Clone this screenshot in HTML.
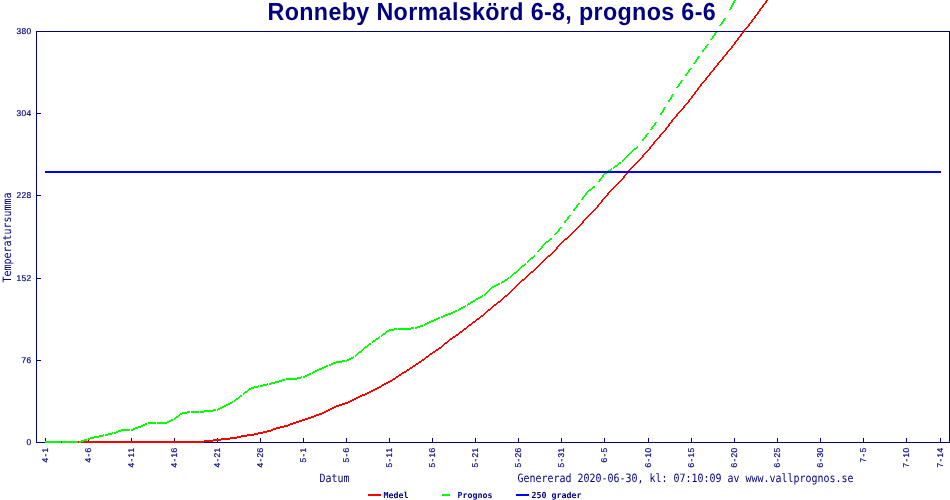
<!DOCTYPE html>
<html lang="sv"><head><meta charset="utf-8"><title>Ronneby Normalskörd 6-8, prognos 6-6</title>
<style>
html,body{margin:0;padding:0;background:#fff;}
body{width:950px;height:500px;overflow:hidden;}
svg{display:block;}
.title{font-family:"Liberation Sans",Arial,sans-serif;font-weight:bold;font-size:23.3px;letter-spacing:0.34px;}
.tiny{font-family:"Liberation Sans",Arial,sans-serif;font-size:8.4px;stroke:#000080;stroke-width:0.2px;}
.tinyb{font-family:"DejaVu Sans Mono","Liberation Mono",monospace;font-size:8.3px;font-weight:bold;}
.small{font-family:"DejaVu Sans Mono","Liberation Mono",monospace;font-size:9.97px;}
</style></head><body>
<svg width="950" height="500" viewBox="0 0 950 500" shape-rendering="crispEdges">
<rect width="950" height="500" fill="#fff"/>
<g fill="#000080">
<rect x="36" y="31" width="914" height="1"/>
<rect x="36" y="442" width="914" height="1"/>
<rect x="36" y="31" width="1" height="412"/>
<rect x="949" y="31" width="1" height="412"/>
<rect x="36" y="31" width="5" height="1"/>
<rect x="36" y="113" width="5" height="1"/>
<rect x="36" y="195" width="5" height="1"/>
<rect x="36" y="278" width="5" height="1"/>
<rect x="36" y="360" width="5" height="1"/>
<rect x="36" y="442" width="5" height="1"/>
<rect x="45" y="438" width="1" height="5"/>
<rect x="88" y="438" width="1" height="5"/>
<rect x="131" y="438" width="1" height="5"/>
<rect x="174" y="438" width="1" height="5"/>
<rect x="217" y="438" width="1" height="5"/>
<rect x="260" y="438" width="1" height="5"/>
<rect x="303" y="438" width="1" height="5"/>
<rect x="346" y="438" width="1" height="5"/>
<rect x="389" y="438" width="1" height="5"/>
<rect x="432" y="438" width="1" height="5"/>
<rect x="475" y="438" width="1" height="5"/>
<rect x="518" y="438" width="1" height="5"/>
<rect x="561" y="438" width="1" height="5"/>
<rect x="604" y="438" width="1" height="5"/>
<rect x="648" y="438" width="1" height="5"/>
<rect x="691" y="438" width="1" height="5"/>
<rect x="734" y="438" width="1" height="5"/>
<rect x="777" y="438" width="1" height="5"/>
<rect x="820" y="438" width="1" height="5"/>
<rect x="863" y="438" width="1" height="5"/>
<rect x="906" y="438" width="1" height="5"/>
<rect x="940" y="438" width="1" height="5"/>
</g>
<path fill="#f00" d="M766 0h2v1h-2zM765 1h2v1h-2zM765 2h2v1h-2zM764 3h2v1h-2zM763 4h2v1h-2zM762 5h2v1h-2zM762 6h2v1h-2zM761 7h2v1h-2zM760 8h2v1h-2zM759 9h2v1h-2zM759 10h2v1h-2zM758 11h2v1h-2zM757 12h2v1h-2zM757 13h2v1h-2zM756 14h2v1h-2zM755 15h2v1h-2zM754 16h2v1h-2zM754 17h2v1h-2zM753 18h2v1h-2zM752 19h2v1h-2zM751 20h2v1h-2zM751 21h2v1h-2zM750 22h2v1h-2zM749 23h2v1h-2zM748 24h2v1h-2zM748 25h2v1h-2zM747 26h2v1h-2zM746 27h2v1h-2zM745 28h2v1h-2zM744 29h2v1h-2zM743 30h2v1h-2zM743 31h2v1h-2zM742 32h2v1h-2zM741 33h2v1h-2zM740 34h2v1h-2zM740 35h2v1h-2zM739 36h2v1h-2zM738 37h2v1h-2zM737 38h2v1h-2zM737 39h2v1h-2zM736 40h2v1h-2zM735 41h2v1h-2zM734 42h2v1h-2zM734 43h2v1h-2zM733 44h2v1h-2zM732 45h2v1h-2zM731 46h2v1h-2zM731 47h2v1h-2zM730 48h2v1h-2zM729 49h2v1h-2zM728 50h2v1h-2zM727 51h2v1h-2zM726 52h2v1h-2zM726 53h2v1h-2zM725 54h2v1h-2zM724 55h2v1h-2zM723 56h2v1h-2zM722 57h2v1h-2zM722 58h2v1h-2zM721 59h2v1h-2zM720 60h2v1h-2zM719 61h2v1h-2zM718 62h2v1h-2zM717 63h2v1h-2zM717 64h2v1h-2zM716 65h2v1h-2zM715 66h2v1h-2zM714 67h2v1h-2zM713 68h2v1h-2zM713 69h2v1h-2zM712 70h2v1h-2zM711 71h2v1h-2zM710 72h2v1h-2zM709 73h2v1h-2zM709 74h2v1h-2zM708 75h2v1h-2zM707 76h2v1h-2zM706 77h2v1h-2zM705 78h2v1h-2zM705 79h2v1h-2zM704 80h2v1h-2zM703 81h2v1h-2zM702 82h2v1h-2zM701 83h2v1h-2zM700 84h2v1h-2zM700 85h2v1h-2zM699 86h2v1h-2zM698 87h2v1h-2zM697 88h2v1h-2zM697 89h2v1h-2zM696 90h2v1h-2zM695 91h2v1h-2zM694 92h2v1h-2zM694 93h2v1h-2zM693 94h2v1h-2zM692 95h2v1h-2zM691 96h2v1h-2zM691 97h2v1h-2zM690 98h2v1h-2zM689 99h2v1h-2zM688 100h2v1h-2zM688 101h2v1h-2zM687 102h2v1h-2zM686 103h2v1h-2zM685 104h2v1h-2zM684 105h2v1h-2zM683 106h2v1h-2zM683 107h2v1h-2zM682 108h2v1h-2zM681 109h2v1h-2zM680 110h2v1h-2zM679 111h2v1h-2zM678 112h2v1h-2zM677 113h2v1h-2zM676 114h2v1h-2zM676 115h2v1h-2zM675 116h2v1h-2zM674 117h2v1h-2zM673 118h2v1h-2zM672 119h2v1h-2zM671 120h2v1h-2zM671 121h2v1h-2zM670 122h2v1h-2zM669 123h2v1h-2zM668 124h2v1h-2zM668 125h2v1h-2zM667 126h2v1h-2zM666 127h2v1h-2zM665 128h2v1h-2zM665 129h2v1h-2zM664 130h2v1h-2zM663 131h2v1h-2zM662 132h2v1h-2zM661 133h2v1h-2zM660 134h2v1h-2zM659 135h2v1h-2zM659 136h2v1h-2zM658 137h2v1h-2zM657 138h2v1h-2zM656 139h2v1h-2zM655 140h2v1h-2zM654 141h2v1h-2zM653 142h2v1h-2zM653 143h2v1h-2zM652 144h2v1h-2zM651 145h2v1h-2zM650 146h2v1h-2zM649 147h2v1h-2zM649 148h2v1h-2zM648 149h2v1h-2zM647 150h2v1h-2zM646 151h2v1h-2zM645 152h2v1h-2zM644 153h2v1h-2zM643 154h2v1h-2zM642 155h2v1h-2zM642 156h2v1h-2zM641 157h2v1h-2zM640 158h2v1h-2zM639 159h2v1h-2zM638 160h2v1h-2zM637 161h2v1h-2zM636 162h2v1h-2zM635 163h2v1h-2zM634 164h2v1h-2zM633 165h2v1h-2zM632 166h2v1h-2zM631 167h2v1h-2zM630 168h2v1h-2zM629 169h2v1h-2zM628 170h2v1h-2zM627 171h2v1h-2zM627 172h2v1h-2zM626 173h2v1h-2zM625 174h2v1h-2zM624 175h2v1h-2zM623 176h2v1h-2zM623 177h2v1h-2zM622 178h2v1h-2zM621 179h2v1h-2zM620 180h2v1h-2zM619 181h2v1h-2zM618 182h2v1h-2zM617 183h2v1h-2zM616 184h2v1h-2zM615 185h2v1h-2zM614 186h2v1h-2zM613 187h2v1h-2zM612 188h2v1h-2zM611 189h2v1h-2zM610 190h2v1h-2zM609 191h2v1h-2zM608 192h2v1h-2zM607 193h2v1h-2zM607 194h2v1h-2zM606 195h2v1h-2zM605 196h2v1h-2zM604 197h2v1h-2zM603 198h2v1h-2zM602 199h2v1h-2zM601 200h2v1h-2zM601 201h2v1h-2zM600 202h2v1h-2zM599 203h2v1h-2zM598 204h2v1h-2zM597 205h2v1h-2zM597 206h2v1h-2zM596 207h2v1h-2zM595 208h2v1h-2zM594 209h2v1h-2zM593 210h2v1h-2zM592 211h2v1h-2zM591 212h2v1h-2zM590 213h2v1h-2zM589 214h2v1h-2zM588 215h2v1h-2zM587 216h2v1h-2zM586 217h2v1h-2zM585 218h2v1h-2zM584 219h2v1h-2zM583 220h2v1h-2zM582 221h2v1h-2zM582 222h2v1h-2zM581 223h2v1h-2zM580 224h2v1h-2zM579 225h2v1h-2zM578 226h2v1h-2zM577 227h2v1h-2zM576 228h2v1h-2zM575 229h2v1h-2zM574 230h2v1h-2zM573 231h2v1h-2zM572 232h2v1h-2zM571 233h2v1h-2zM570 234h2v1h-2zM569 235h2v1h-2zM568 236h2v1h-2zM567 237h2v1h-2zM565 238h3v1h-3zM564 239h3v1h-3zM563 240h2v1h-2zM562 241h2v1h-2zM561 242h2v1h-2zM560 243h2v1h-2zM559 244h2v1h-2zM558 245h2v1h-2zM557 246h2v1h-2zM556 247h2v1h-2zM556 248h2v1h-2zM555 249h2v1h-2zM554 250h2v1h-2zM553 251h2v1h-2zM552 252h2v1h-2zM551 253h2v1h-2zM550 254h2v1h-2zM548 255h3v1h-3zM547 256h3v1h-3zM546 257h2v1h-2zM545 258h2v1h-2zM544 259h2v1h-2zM543 260h2v1h-2zM542 261h2v1h-2zM541 262h2v1h-2zM540 263h2v1h-2zM539 264h2v1h-2zM538 265h2v1h-2zM537 266h2v1h-2zM536 267h2v1h-2zM535 268h2v1h-2zM534 269h2v1h-2zM533 270h2v1h-2zM531 271h3v1h-3zM530 272h3v1h-3zM529 273h2v1h-2zM528 274h2v1h-2zM527 275h2v1h-2zM526 276h2v1h-2zM525 277h2v1h-2zM524 278h2v1h-2zM522 279h3v1h-3zM521 280h3v1h-3zM520 281h2v1h-2zM519 282h2v1h-2zM518 283h2v1h-2zM517 284h2v1h-2zM516 285h2v1h-2zM515 286h2v1h-2zM514 287h2v1h-2zM513 288h2v1h-2zM512 289h2v1h-2zM511 290h2v1h-2zM510 291h2v1h-2zM509 292h2v1h-2zM508 293h2v1h-2zM507 294h2v1h-2zM505 295h3v1h-3zM504 296h3v1h-3zM503 297h2v1h-2zM502 298h2v1h-2zM501 299h2v1h-2zM500 300h2v1h-2zM498 301h3v1h-3zM497 302h3v1h-3zM496 303h2v1h-2zM494 304h3v1h-3zM493 305h3v1h-3zM492 306h2v1h-2zM491 307h2v1h-2zM490 308h2v1h-2zM488 309h3v1h-3zM487 310h3v1h-3zM486 311h2v1h-2zM485 312h2v1h-2zM484 313h2v1h-2zM483 314h2v1h-2zM481 315h3v1h-3zM480 316h3v1h-3zM479 317h2v1h-2zM477 318h3v1h-3zM476 319h3v1h-3zM475 320h2v1h-2zM473 321h3v1h-3zM472 322h3v1h-3zM471 323h2v1h-2zM469 324h3v1h-3zM468 325h3v1h-3zM467 326h2v1h-2zM466 327h2v1h-2zM464 328h3v1h-3zM463 329h3v1h-3zM462 330h2v1h-2zM460 331h3v1h-3zM459 332h3v1h-3zM458 333h2v1h-2zM456 334h3v1h-3zM455 335h3v1h-3zM453 336h3v1h-3zM452 337h3v1h-3zM450 338h3v1h-3zM449 339h3v1h-3zM448 340h2v1h-2zM447 341h2v1h-2zM445 342h3v1h-3zM444 343h3v1h-3zM443 344h2v1h-2zM442 345h2v1h-2zM441 346h2v1h-2zM439 347h3v1h-3zM438 348h3v1h-3zM436 349h3v1h-3zM435 350h3v1h-3zM433 351h3v1h-3zM432 352h3v1h-3zM430 353h3v1h-3zM429 354h3v1h-3zM428 355h2v1h-2zM426 356h3v1h-3zM425 357h3v1h-3zM424 358h2v1h-2zM422 359h3v1h-3zM421 360h3v1h-3zM419 361h3v1h-3zM418 362h3v1h-3zM416 363h3v1h-3zM415 364h3v1h-3zM413 365h3v1h-3zM412 366h3v1h-3zM410 367h3v1h-3zM409 368h3v1h-3zM407 369h3v1h-3zM406 370h3v1h-3zM404 371h3v1h-3zM402 372h4v1h-4zM401 373h3v1h-3zM399 374h3v1h-3zM398 375h3v1h-3zM396 376h3v1h-3zM395 377h3v1h-3zM393 378h3v1h-3zM392 379h3v1h-3zM390 380h3v1h-3zM388 381h4v1h-4zM386 382h4v1h-4zM384 383h4v1h-4zM382 384h4v1h-4zM381 385h3v1h-3zM379 386h3v1h-3zM377 387h4v1h-4zM375 388h4v1h-4zM373 389h4v1h-4zM371 390h4v1h-4zM369 391h4v1h-4zM367 392h4v1h-4zM365 393h4v1h-4zM362 394h5v1h-5zM360 395h5v1h-5zM358 396h4v1h-4zM356 397h4v1h-4zM354 398h4v1h-4zM352 399h4v1h-4zM350 400h4v1h-4zM348 401h4v1h-4zM345 402h5v1h-5zM342 403h6v1h-6zM339 404h6v1h-6zM336 405h6v1h-6zM334 406h5v1h-5zM332 407h4v1h-4zM330 408h4v1h-4zM328 409h4v1h-4zM326 410h4v1h-4zM324 411h4v1h-4zM322 412h4v1h-4zM319 413h5v1h-5zM316 414h6v1h-6zM314 415h5v1h-5zM311 416h5v1h-5zM308 417h6v1h-6zM305 418h6v1h-6zM302 419h6v1h-6zM299 420h6v1h-6zM296 421h6v1h-6zM293 422h6v1h-6zM290 423h6v1h-6zM288 424h5v1h-5zM284 425h6v1h-6zM280 426h8v1h-8zM276 427h8v1h-8zM273 428h7v1h-7zM271 429h5v1h-5zM267 430h6v1h-6zM263 431h8v1h-8zM258 432h9v1h-9zM254 433h9v1h-9zM247 434h11v1h-11zM241 435h13v1h-13zM237 436h10v1h-10zM230 437h11v1h-11zM221 438h16v1h-16zM213 439h17v1h-17zM204 440h17v1h-17zM45 441h168v1h-168zM45 442h159v1h-159z"/>
<path fill="#0f0" d="M734 0h2v1h-2zM733 1h2v1h-2zM733 2h2v1h-2zM732 3h2v1h-2zM732 4h2v1h-2zM731 5h2v1h-2zM731 6h2v1h-2zM730 7h2v1h-2zM730 8h2v1h-2zM729 9h2v1h-2zM724 18h2v1h-2zM723 19h2v1h-2zM723 20h2v1h-2zM722 21h2v1h-2zM721 22h2v1h-2zM721 23h2v1h-2zM720 24h2v1h-2zM719 25h2v1h-2zM715 32h2v1h-2zM714 33h2v1h-2zM714 34h2v1h-2zM713 35h2v1h-2zM712 36h2v1h-2zM712 37h2v1h-2zM711 38h2v1h-2zM710 39h2v1h-2zM707 44h2v1h-2zM706 45h2v1h-2zM705 46h2v1h-2zM705 47h2v1h-2zM704 48h2v1h-2zM703 49h2v1h-2zM702 50h2v1h-2zM702 51h2v1h-2zM698 56h2v1h-2zM697 57h2v1h-2zM697 58h2v1h-2zM696 59h2v1h-2zM695 60h2v1h-2zM695 61h2v1h-2zM694 62h2v1h-2zM693 63h2v1h-2zM690 68h2v1h-2zM689 69h2v1h-2zM688 70h2v1h-2zM688 71h2v1h-2zM687 72h2v1h-2zM686 73h2v1h-2zM685 74h2v1h-2zM685 75h2v1h-2zM681 80h2v1h-2zM680 81h2v1h-2zM680 82h2v1h-2zM679 83h2v1h-2zM678 84h2v1h-2zM678 85h2v1h-2zM677 86h2v1h-2zM676 87h2v1h-2zM672 94h2v1h-2zM671 95h2v1h-2zM671 96h2v1h-2zM670 97h2v1h-2zM670 98h2v1h-2zM669 99h2v1h-2zM668 100h2v1h-2zM668 101h2v1h-2zM664 107h2v1h-2zM663 108h2v1h-2zM663 109h2v1h-2zM662 110h2v1h-2zM662 111h2v1h-2zM661 112h2v1h-2zM660 113h2v1h-2zM660 114h2v1h-2zM655 122h2v1h-2zM654 123h2v1h-2zM654 124h2v1h-2zM653 125h2v1h-2zM652 126h2v1h-2zM651 127h2v1h-2zM651 128h2v1h-2zM650 129h2v1h-2zM647 133h2v1h-2zM646 134h2v1h-2zM645 135h2v1h-2zM645 136h2v1h-2zM644 137h2v1h-2zM643 138h2v1h-2zM642 139h2v1h-2zM642 140h2v1h-2zM637 146h1v1h-1zM636 147h2v1h-2zM634 148h3v1h-3zM633 149h3v1h-3zM632 150h2v1h-2zM631 151h2v1h-2zM630 152h2v1h-2zM629 153h2v1h-2zM628 154h2v1h-2zM627 155h2v1h-2zM626 156h2v1h-2zM625 157h2v1h-2zM624 158h2v1h-2zM623 159h2v1h-2zM622 160h2v1h-2zM622 161h1v1h-1zM619 162h2v1h-2zM618 163h3v1h-3zM617 164h2v1h-2zM615 165h3v1h-3zM614 166h3v1h-3zM613 167h2v1h-2zM611 168h1v1h-1zM613 168h1v1h-1zM610 169h2v1h-2zM608 170h3v1h-3zM607 171h3v1h-3zM605 172h3v1h-3zM604 173h3v1h-3zM603 174h2v1h-2zM602 175h2v1h-2zM602 176h2v1h-2zM601 177h2v1h-2zM600 178h2v1h-2zM599 179h2v1h-2zM599 180h2v1h-2zM598 181h2v1h-2zM593 186h2v1h-2zM592 187h3v1h-3zM591 188h2v1h-2zM589 189h3v1h-3zM588 190h3v1h-3zM587 191h2v1h-2zM586 192h2v1h-2zM585 193h2v1h-2zM585 194h2v1h-2zM584 195h2v1h-2zM583 196h2v1h-2zM582 197h2v1h-2zM582 198h2v1h-2zM581 199h2v1h-2zM578 203h2v1h-2zM577 204h2v1h-2zM576 205h2v1h-2zM576 206h2v1h-2zM575 207h2v1h-2zM574 208h2v1h-2zM573 209h2v1h-2zM573 210h2v1h-2zM569 215h2v1h-2zM568 216h2v1h-2zM567 217h2v1h-2zM567 218h2v1h-2zM566 219h2v1h-2zM565 220h2v1h-2zM564 221h2v1h-2zM564 222h2v1h-2zM560 227h2v1h-2zM559 228h2v1h-2zM558 229h2v1h-2zM558 230h2v1h-2zM557 231h2v1h-2zM556 232h2v1h-2zM555 233h2v1h-2zM554 234h2v1h-2zM550 238h2v1h-2zM549 239h3v1h-3zM548 240h2v1h-2zM546 241h3v1h-3zM545 242h3v1h-3zM544 243h2v1h-2zM543 244h2v1h-2zM542 245h2v1h-2zM541 246h2v1h-2zM541 247h2v1h-2zM540 248h2v1h-2zM539 249h2v1h-2zM538 250h2v1h-2zM537 251h2v1h-2zM534 255h1v1h-1zM533 256h2v1h-2zM531 257h3v1h-3zM530 258h3v1h-3zM529 259h2v1h-2zM528 260h2v1h-2zM527 261h2v1h-2zM527 262h1v1h-1zM525 263h1v1h-1zM524 264h2v1h-2zM522 265h3v1h-3zM521 266h3v1h-3zM520 267h2v1h-2zM519 268h2v1h-2zM518 269h2v1h-2zM517 270h2v1h-2zM516 271h2v1h-2zM514 272h3v1h-3zM513 273h3v1h-3zM512 274h2v1h-2zM511 275h2v1h-2zM510 276h2v1h-2zM508 277h1v1h-1zM510 277h1v1h-1zM507 278h2v1h-2zM505 279h3v1h-3zM504 280h3v1h-3zM502 281h3v1h-3zM501 282h3v1h-3zM498 283h2v1h-2zM501 283h1v1h-1zM496 284h4v1h-4zM494 285h4v1h-4zM492 286h4v1h-4zM491 287h3v1h-3zM490 288h2v1h-2zM489 289h2v1h-2zM488 290h2v1h-2zM487 291h2v1h-2zM486 292h2v1h-2zM485 293h2v1h-2zM484 294h2v1h-2zM482 295h1v1h-1zM484 295h1v1h-1zM480 296h3v1h-3zM478 297h4v1h-4zM476 298h4v1h-4zM475 299h3v1h-3zM473 300h3v1h-3zM471 301h4v1h-4zM470 302h3v1h-3zM468 303h3v1h-3zM467 304h3v1h-3zM465 305h1v1h-1zM467 305h1v1h-1zM463 306h3v1h-3zM461 307h4v1h-4zM459 308h4v1h-4zM458 309h3v1h-3zM455 310h2v1h-2zM458 310h1v1h-1zM453 311h4v1h-4zM451 312h4v1h-4zM448 313h5v1h-5zM445 314h6v1h-6zM443 315h5v1h-5zM441 316h4v1h-4zM438 317h2v1h-2zM441 317h2v1h-2zM436 318h4v1h-4zM434 319h4v1h-4zM431 320h5v1h-5zM429 321h5v1h-5zM427 322h4v1h-4zM425 323h4v1h-4zM424 324h3v1h-3zM420 325h3v1h-3zM424 325h1v1h-1zM417 326h6v1h-6zM411 327h3v1h-3zM415 327h5v1h-5zM394 328h3v1h-3zM398 328h16v1h-16zM415 328h2v1h-2zM389 329h8v1h-8zM398 329h13v1h-13zM387 330h7v1h-7zM386 331h3v1h-3zM385 332h2v1h-2zM383 333h3v1h-3zM382 334h3v1h-3zM381 335h2v1h-2zM379 336h1v1h-1zM381 336h1v1h-1zM378 337h2v1h-2zM376 338h3v1h-3zM375 339h3v1h-3zM373 340h3v1h-3zM372 341h3v1h-3zM372 342h1v1h-1zM369 343h2v1h-2zM368 344h3v1h-3zM367 345h2v1h-2zM365 346h3v1h-3zM364 347h3v1h-3zM363 348h2v1h-2zM362 349h2v1h-2zM361 350h2v1h-2zM359 351h3v1h-3zM358 352h3v1h-3zM357 353h2v1h-2zM356 354h2v1h-2zM355 355h2v1h-2zM353 356h1v1h-1zM355 356h1v1h-1zM351 357h3v1h-3zM349 358h4v1h-4zM347 359h4v1h-4zM342 360h3v1h-3zM346 360h3v1h-3zM336 361h9v1h-9zM346 361h1v1h-1zM333 362h9v1h-9zM331 363h5v1h-5zM329 364h4v1h-4zM326 365h2v1h-2zM329 365h2v1h-2zM324 366h4v1h-4zM322 367h4v1h-4zM319 368h5v1h-5zM317 369h5v1h-5zM315 370h4v1h-4zM313 371h4v1h-4zM312 372h3v1h-3zM309 373h2v1h-2zM312 373h1v1h-1zM307 374h4v1h-4zM305 375h4v1h-4zM301 376h1v1h-1zM303 376h4v1h-4zM297 377h5v1h-5zM303 377h2v1h-2zM286 378h15v1h-15zM282 379h3v1h-3zM286 379h11v1h-11zM279 380h6v1h-6zM275 381h7v1h-7zM271 382h8v1h-8zM267 383h1v1h-1zM269 383h6v1h-6zM263 384h5v1h-5zM269 384h2v1h-2zM258 385h1v1h-1zM260 385h7v1h-7zM254 386h5v1h-5zM260 386h3v1h-3zM251 387h7v1h-7zM249 388h5v1h-5zM248 389h3v1h-3zM247 390h2v1h-2zM245 391h3v1h-3zM244 392h3v1h-3zM243 393h2v1h-2zM243 394h1v1h-1zM240 395h2v1h-2zM239 396h3v1h-3zM238 397h2v1h-2zM236 398h3v1h-3zM235 399h3v1h-3zM234 400h2v1h-2zM232 401h1v1h-1zM234 401h1v1h-1zM230 402h3v1h-3zM228 403h4v1h-4zM226 404h4v1h-4zM224 405h4v1h-4zM222 406h4v1h-4zM220 407h4v1h-4zM218 408h4v1h-4zM213 409h3v1h-3zM217 409h3v1h-3zM204 410h12v1h-12zM217 410h1v1h-1zM187 411h3v1h-3zM191 411h8v1h-8zM200 411h13v1h-13zM182 412h8v1h-8zM191 412h8v1h-8zM200 412h4v1h-4zM180 413h7v1h-7zM179 414h3v1h-3zM178 415h2v1h-2zM176 416h3v1h-3zM175 417h3v1h-3zM174 418h2v1h-2zM171 419h2v1h-2zM174 419h1v1h-1zM169 420h4v1h-4zM167 421h4v1h-4zM148 422h8v1h-8zM157 422h12v1h-12zM145 423h2v1h-2zM148 423h8v1h-8zM157 423h10v1h-10zM143 424h4v1h-4zM141 425h4v1h-4zM138 426h5v1h-5zM135 427h6v1h-6zM133 428h5v1h-5zM121 429h9v1h-9zM131 429h4v1h-4zM118 430h12v1h-12zM131 430h2v1h-2zM116 431h5v1h-5zM112 432h1v1h-1zM114 432h4v1h-4zM108 433h5v1h-5zM114 433h2v1h-2zM103 434h1v1h-1zM105 434h7v1h-7zM99 435h5v1h-5zM105 435h3v1h-3zM94 436h9v1h-9zM90 437h9v1h-9zM88 438h6v1h-6zM84 439h3v1h-3zM88 439h2v1h-2zM81 440h6v1h-6zM45 441h16v1h-16zM62 441h16v1h-16zM79 441h5v1h-5zM45 442h16v1h-16zM62 442h16v1h-16zM79 442h2v1h-2z"/>
<rect x="45" y="171" width="896" height="2" fill="#00f"/>
<rect x="368" y="494" width="13" height="2" fill="#f00"/>
<rect x="442" y="494" width="8" height="2" fill="#0f0"/>
<rect x="516" y="494" width="13" height="2" fill="#00f"/>
<g fill="#000080" text-rendering="geometricPrecision">
<text class="title" transform="translate(491.8,19.9) scale(1,1.055)" text-anchor="middle">Ronneby Normalskörd 6-8, prognos 6-6</text>
<text class="tiny" transform="translate(31.5,34)" x="-15 -10 -5">380</text>
<text class="tiny" transform="translate(31.5,116)" x="-15 -10 -5">304</text>
<text class="tiny" transform="translate(31.5,198)" x="-15 -10 -5">228</text>
<text class="tiny" transform="translate(31.5,281)" x="-15 -10 -5">152</text>
<text class="tiny" transform="translate(31.5,363)" x="-10 -5">76</text>
<text class="tiny" transform="translate(31.5,445)" x="-5">0</text>
<text class="tiny" transform="translate(48,447.5) rotate(-90)" x="-15 -9 -5">4-1</text>
<text class="tiny" transform="translate(91,447.5) rotate(-90)" x="-15 -9 -5">4-6</text>
<text class="tiny" transform="translate(134,447.5) rotate(-90)" x="-20 -14 -10 -5">4-11</text>
<text class="tiny" transform="translate(177,447.5) rotate(-90)" x="-20 -14 -10 -5">4-16</text>
<text class="tiny" transform="translate(220,447.5) rotate(-90)" x="-20 -14 -10 -5">4-21</text>
<text class="tiny" transform="translate(263,447.5) rotate(-90)" x="-20 -14 -10 -5">4-26</text>
<text class="tiny" transform="translate(306,447.5) rotate(-90)" x="-15 -9 -5">5-1</text>
<text class="tiny" transform="translate(349,447.5) rotate(-90)" x="-15 -9 -5">5-6</text>
<text class="tiny" transform="translate(392,447.5) rotate(-90)" x="-20 -14 -10 -5">5-11</text>
<text class="tiny" transform="translate(435,447.5) rotate(-90)" x="-20 -14 -10 -5">5-16</text>
<text class="tiny" transform="translate(478,447.5) rotate(-90)" x="-20 -14 -10 -5">5-21</text>
<text class="tiny" transform="translate(521,447.5) rotate(-90)" x="-20 -14 -10 -5">5-26</text>
<text class="tiny" transform="translate(564,447.5) rotate(-90)" x="-20 -14 -10 -5">5-31</text>
<text class="tiny" transform="translate(607,447.5) rotate(-90)" x="-15 -9 -5">6-5</text>
<text class="tiny" transform="translate(651,447.5) rotate(-90)" x="-20 -14 -10 -5">6-10</text>
<text class="tiny" transform="translate(694,447.5) rotate(-90)" x="-20 -14 -10 -5">6-15</text>
<text class="tiny" transform="translate(737,447.5) rotate(-90)" x="-20 -14 -10 -5">6-20</text>
<text class="tiny" transform="translate(780,447.5) rotate(-90)" x="-20 -14 -10 -5">6-25</text>
<text class="tiny" transform="translate(823,447.5) rotate(-90)" x="-20 -14 -10 -5">6-30</text>
<text class="tiny" transform="translate(866,447.5) rotate(-90)" x="-15 -9 -5">7-5</text>
<text class="tiny" transform="translate(909,447.5) rotate(-90)" x="-20 -14 -10 -5">7-10</text>
<text class="tiny" transform="translate(943,447.5) rotate(-90)" x="-20 -14 -10 -5">7-14</text>
<text class="small" transform="translate(10.8,282.5) rotate(-90) scale(1,1.15)">Temperatursumma</text>
<text class="small" transform="translate(319.5,482) scale(1,1.15)">Datum</text>
<text class="small" transform="translate(517.5,482) scale(1,1.15)">Genererad 2020-06-30, kl: 07:10:09 av www.vallprognos.se</text>
<text class="tinyb" transform="translate(383.5,498) scale(1,1)">Medel</text>
<text class="tinyb" transform="translate(457.5,498) scale(1,1)">Prognos</text>
<text class="tinyb" transform="translate(531.5,498) scale(1,1)">250 grader</text>
</g></svg>
</body></html>
